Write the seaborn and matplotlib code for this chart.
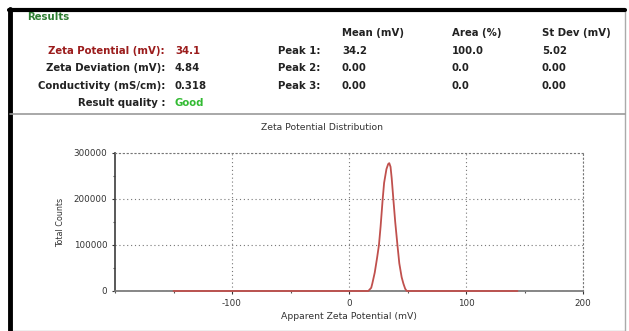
import numpy as np
import pandas as pd
import seaborn as sns
import matplotlib.pyplot as plt
from matplotlib.patches import Rectangle
from matplotlib.ticker import MultipleLocator

# Zeta potential distribution
zeta_mv = [-150, 10, 16.5, 19, 20, 22, 24, 25.6, 27, 28.8, 30, 32, 33.5,
           34.4, 35.5, 36.5, 37.9, 39.5, 41.4, 43, 45, 46.5, 48, 49.3,
           55, 144]
total_counts = [0, 0, 0, 7000, 17000, 40000, 72000, 100000, 140000,
                200000, 235000, 265000, 276000, 278000, 270000, 245000,
                200000, 150000, 100000, 60000, 30000, 16000, 5000, 0,
                0, 0]

result_labels = ['Zeta Potential (mV):', 'Zeta Deviation (mV):',
                 'Conductivity (mS/cm):', 'Result quality :']
result_values = ['34.1', '4.84', '0.318', 'Good']

peak_headers = ['Mean (mV)', 'Area (%)', 'St Dev (mV)']
peak_labels = ['Peak 1:', 'Peak 2:', 'Peak 3:']
peak_mean = ['34.2', '0.00', '0.00']
peak_area = ['100.0', '0.0', '0.0']
peak_sd = ['5.02', '0.00', '0.00']

x_ticks = [-100, 0, 100, 200]
y_ticks = [0, 100000, 200000, 300000]

sns.set_theme(style='white')
plt.rcParams['font.family'] = ['DejaVu Sans']

W, H = 629, 331
fig = plt.figure(figsize=(W / 100, H / 100), dpi=100)


def fx(px):
    return px / W


def fy(py):
    return 1 - py / H


# panel frames
fig.add_artist(Rectangle((fx(10), 0), fx(615), fy(10), fill=False,
                         edgecolor='#aaaaaa', lw=1.0,
                         transform=fig.transFigure))
fig.add_artist(plt.Line2D([fx(10), fx(10)], [0, fy(9)], color='black',
                          lw=3.5, transform=fig.transFigure))
fig.add_artist(plt.Line2D([fx(9), fx(625)], [fy(10), fy(10)],
                          color='black', lw=3.0, transform=fig.transFigure))
fig.add_artist(plt.Line2D([fx(10), fx(625)], [fy(113.5), fy(113.5)],
                          color='#999999', lw=1.2, transform=fig.transFigure))

# results block
bold = dict(fontsize=7.3, fontweight='bold', va='center')
fig.text(fx(27), fy(17), 'Results', color='#2e7d32', **bold)
row_y = [51, 68, 86, 103]
for i, (lab, val) in enumerate(zip(result_labels, result_values)):
    c = '#9b1c1c' if i == 0 else '#222222'
    vc = '#9b1c1c' if i == 0 else ('#33bb33' if i == 3 else '#222222')
    fig.text(fx(165), fy(row_y[i]), lab, ha='right', color=c, **bold)
    fig.text(fx(175), fy(row_y[i]), val, ha='left', color=vc, **bold)

for hx, h in zip([342, 452, 542], peak_headers):
    fig.text(fx(hx), fy(33), h, ha='left', color='#222222', **bold)
for i, lab in enumerate(peak_labels):
    fig.text(fx(320), fy(row_y[i]), lab, ha='right', color='#222222', **bold)
    fig.text(fx(342), fy(row_y[i]), peak_mean[i], color='#222222', **bold)
    fig.text(fx(452), fy(row_y[i]), peak_area[i], color='#222222', **bold)
    fig.text(fx(542), fy(row_y[i]), peak_sd[i], color='#222222', **bold)

# distribution plot
ax = fig.add_axes([fx(115), fy(291), fx(583 - 115), fy(153) - fy(291)])
df = pd.DataFrame({'zeta': zeta_mv, 'counts': total_counts})
sns.lineplot(data=df, x='zeta', y='counts', ax=ax, color='#c0504d',
             lw=1.3, estimator=None, sort=False, clip_on=False, zorder=5)
ax.set_xlim(-200, 200)
ax.set_ylim(0, 300000)
ax.set_xticks(x_ticks)
ax.set_yticks(y_ticks)
ax.set_xticklabels([str(t) for t in x_ticks])
ax.set_yticklabels([str(t) for t in y_ticks])
ax.xaxis.set_minor_locator(MultipleLocator(50))
ax.yaxis.set_minor_locator(MultipleLocator(50000))
ax.tick_params(which='major', length=2.5, width=0.8, pad=3,
               labelsize=6.3, colors='#333333', bottom=True, left=True)
ax.tick_params(which='minor', length=1.5, width=0.8, bottom=True,
               left=True, color='#555555')
ax.grid(True, which='major', linestyle=(0, (1, 2.5)), color='#777777',
        lw=0.8)
for side in ['top', 'right']:
    ax.spines[side].set_linestyle((0, (1, 2.5)))
    ax.spines[side].set_color('#777777')
    ax.spines[side].set_linewidth(0.8)
ax.spines['left'].set_color('#444444')
ax.spines['bottom'].set_color('#777777')
ax.set_xlabel('Apparent Zeta Potential (mV)', fontsize=6.7,
              color='#333333', labelpad=3)
ax.set_ylabel('Total Counts', fontsize=5.8, color='#333333', labelpad=6)
fig.text(fx(322), fy(128), 'Zeta Potential Distribution', ha='center',
         va='center', fontsize=6.7, color='#333333')

fig.savefig('out.png', dpi=100)
